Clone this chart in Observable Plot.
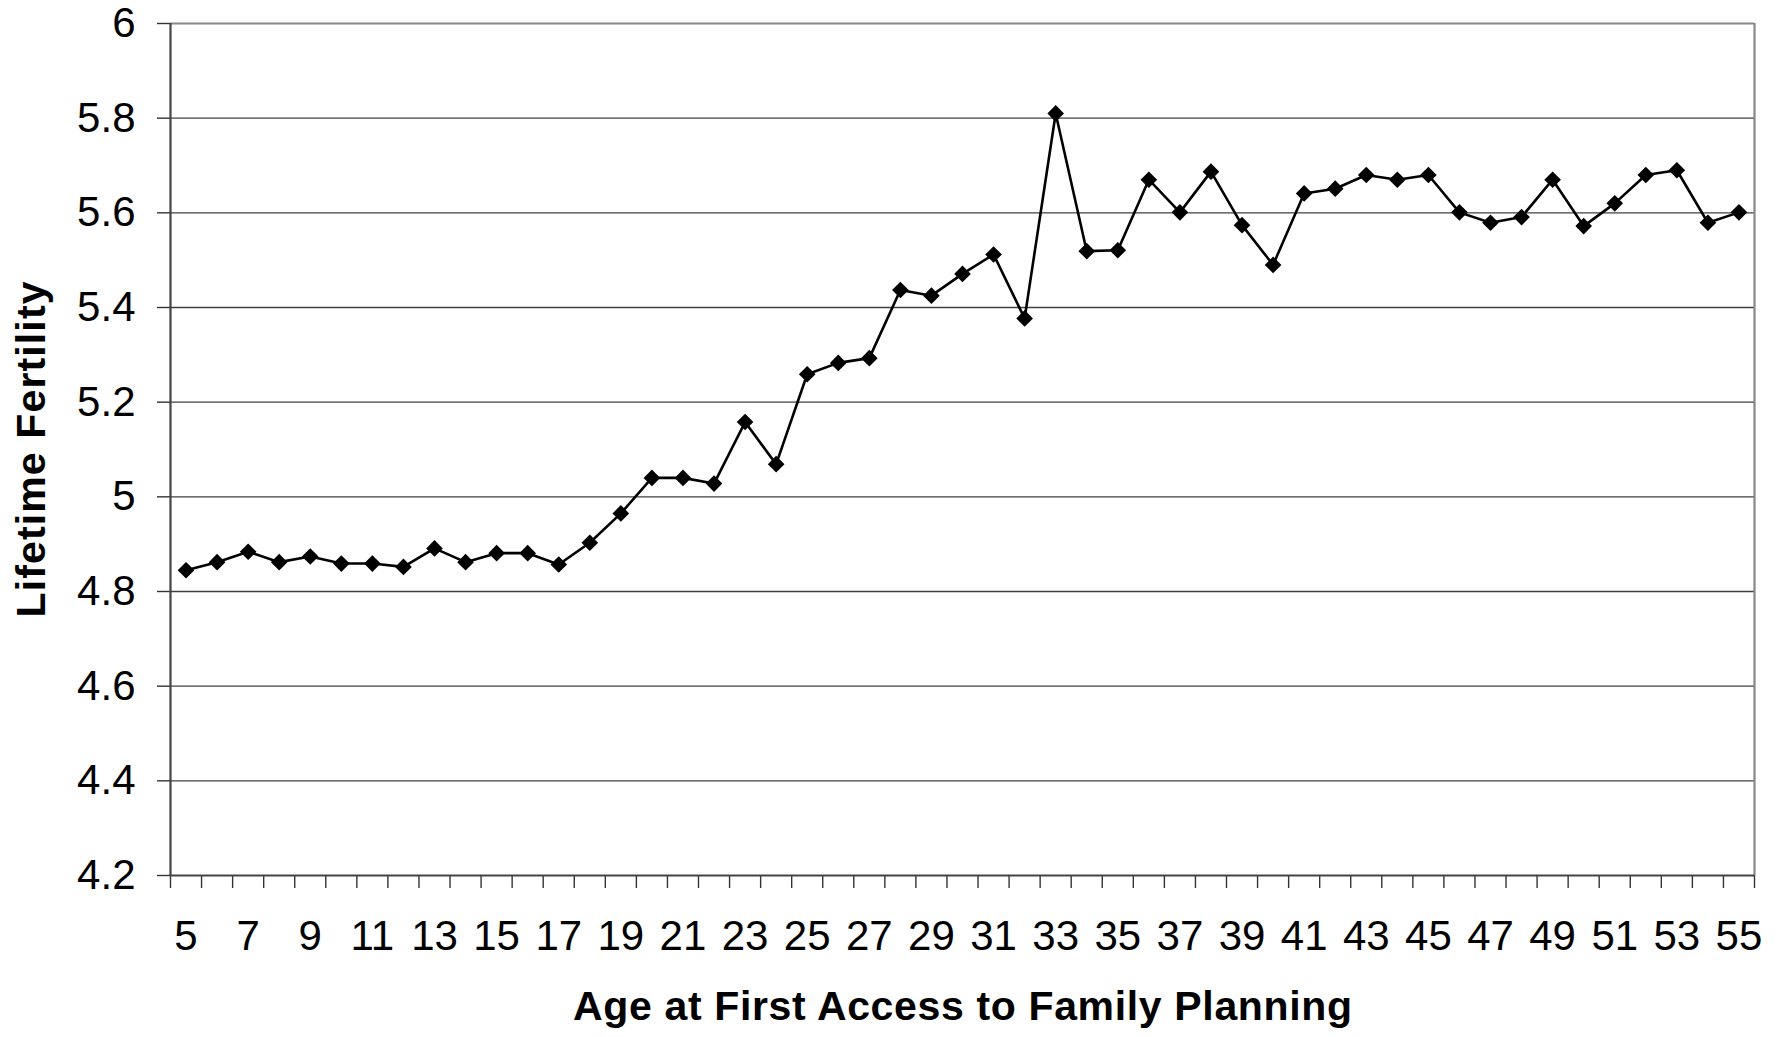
<!DOCTYPE html>
<html>
<head>
<meta charset="utf-8">
<script src="https://cdn.jsdelivr.net/npm/d3@7"></script>
<script src="https://cdn.jsdelivr.net/npm/@observablehq/plot@0.6"></script>
<style>
  html, body { margin: 0; padding: 0; background: #fff; }
  #chart svg { display: block; }
</style>
</head>
<body>
<div id="chart"></div>
<script>
const ages = [5,6,7,8,9,10,11,12,13,14,15,16,17,18,19,20,21,22,23,24,25,26,27,28,29,30,31,32,33,34,35,36,37,38,39,40,41,42,43,44,45,46,47,48,49,50,51,52,53,54,55];
const fertility = [4.845,4.862,4.884,4.862,4.874,4.859,4.859,4.852,4.891,4.862,4.881,4.881,4.857,4.903,4.965,5.040,5.040,5.028,5.158,5.069,5.259,5.283,5.293,5.437,5.425,5.471,5.512,5.377,5.810,5.519,5.521,5.670,5.601,5.687,5.574,5.490,5.641,5.651,5.680,5.670,5.680,5.601,5.579,5.591,5.670,5.572,5.620,5.680,5.690,5.579,5.601];
const yTicks = [4.2,4.4,4.6,4.8,5.0,5.2,5.4,5.6,5.8,6.0];
const xTickLabels = [5,7,9,11,13,15,17,19,21,23,25,27,29,31,33,35,37,39,41,43,45,47,49,51,53,55];
const xTitle = "Age at First Access to Family Planning";
const yTitle = "Lifetime Fertility";

const data = ages.map((a, i) => ({age: a, value: fertility[i]}));
const boundaries = ages.map(a => a - 0.5).concat([ages[ages.length - 1] + 0.5]);
const gridVals = yTicks.filter(v => v > yTicks[0] && v < yTicks[yTicks.length - 1]);
const FONT = "'Liberation Sans', Arial, Helvetica, sans-serif";

const chart = Plot.plot({
  width: 1786,
  height: 1037,
  marginLeft: 170,
  marginRight: 32,
  marginTop: 23,
  marginBottom: 162,
  style: {fontFamily: FONT, background: "#fff", color: "#000"},
  x: {type: "linear", domain: [boundaries[0], boundaries[boundaries.length - 1]]},
  y: {domain: [yTicks[0], yTicks[yTicks.length - 1]]},
  marks: [
    Plot.gridY(gridVals, {stroke: "#000", strokeOpacity: 0.75, strokeWidth: 1.3}),
    Plot.ruleY([yTicks[yTicks.length - 1]], {stroke: "#888", strokeWidth: 2.2}),
    Plot.ruleX([boundaries[boundaries.length - 1]], {stroke: "#888", strokeWidth: 2.2}),
    Plot.axisY({ticks: yTicks, tickSize: 13, tickPadding: 22, fontSize: 42, label: null,
      tickFormat: d => String(+d.toFixed(1)), stroke: "#333", strokeWidth: 1.4}),
    Plot.axisX({ticks: boundaries, tickSize: 13, tickFormat: () => "", label: null, stroke: "#333", strokeWidth: 1.4}),
    Plot.axisX({ticks: xTickLabels, tickSize: 0, tickPadding: 45, fontSize: 42, label: null, tickFormat: d => String(d)}),
    Plot.ruleX([boundaries[0]], {stroke: "#444", strokeWidth: 2.2}),
    Plot.ruleY([yTicks[0]], {stroke: "#444", strokeWidth: 2.2}),
    Plot.line(data, {x: "age", y: "value", stroke: "#000", strokeWidth: 2.6}),
    Plot.dot(data, {x: "age", y: "value", symbol: "diamond2", r: 7.5, fill: "#000", stroke: "none"}),
    Plot.text([xTitle], {frameAnchor: "bottom", lineAnchor: "middle", textAnchor: "middle", dy: 131, fontSize: 41, fontWeight: "bold", fill: "#000", text: d => d}),
    Plot.text([yTitle], {frameAnchor: "left", lineAnchor: "middle", textAnchor: "middle", dx: -139, rotate: -90, fontSize: 41, fontWeight: "bold", fill: "#000", text: d => d})
  ]
});
const svg = d3.select(chart);
svg.selectAll("text").filter(function () { return this.textContent === xTitle; })
  .attr("textLength", 779).attr("lengthAdjust", "spacing");
svg.selectAll("text").filter(function () { return this.textContent === yTitle; })
  .attr("textLength", 336).attr("lengthAdjust", "spacing");
document.getElementById("chart").appendChild(chart);
</script>
</body>
</html>
